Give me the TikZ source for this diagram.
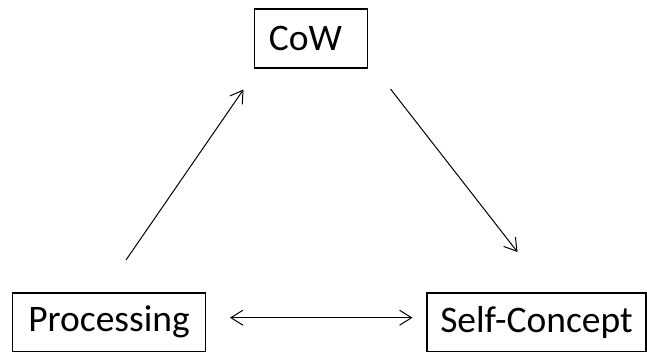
\documentclass[tikz,border=0pt]{standalone}
\usepackage{fontspec}
\setmainfont{Carlito}
\usetikzlibrary{arrows.meta}
\begin{document}
\begin{tikzpicture}[x=1pt,y=-1pt,
  box/.style={draw, line width=1.3pt, inner sep=0pt, font=\fontsize{37.5}{40}\selectfont},
  conn/.style={line width=1pt, -{Straight Barb[length=12pt,width=15pt,line width=1pt]}},
  dconn/.style={line width=1pt, {Straight Barb[length=12pt,width=15pt,line width=1pt]}-{Straight Barb[length=12pt,width=15pt,line width=1pt]}}]
\useasboundingbox (0,0) rectangle (647,354);
\node[box, minimum width=112.5pt, minimum height=59pt] (cow) at (311,38.5) {\hspace*{-11pt}\raisebox{-2pt}{CoW}};
\node[box, minimum width=193.5pt, minimum height=58.5pt] (proc) at (109,322.3) {\raisebox{-2pt}{Processing}};
\node[box, minimum width=219pt, minimum height=58.5pt] (self) at (536.5,322.3) {\raisebox{-2pt}{Self-Concept}};
\coordinate (a1s) at (126,260);
\coordinate (a1e) at (243.5,89.5);
\coordinate (a2s) at (390.5,89);
\coordinate (a2e) at (517.5,252);
\coordinate (a3s) at (230,317.7);
\coordinate (a3e) at (412.5,317.7);
\draw[conn] (a1s) -- (a1e);
\draw[conn] (a2s) -- (a2e);
\draw[dconn] (a3s) -- (a3e);
\end{tikzpicture}
\end{document}
